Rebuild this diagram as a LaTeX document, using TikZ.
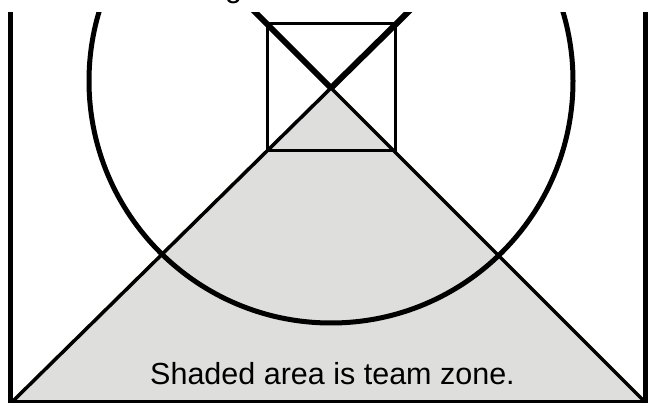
\documentclass[tikz,border=0pt]{standalone}
\usepackage{fontspec}
\setmainfont{Liberation Sans}
\definecolor{zonegray}{RGB}{222,222,220}
\usetikzlibrary{calc}

\begin{document}
\begin{tikzpicture}[x=1pt, y=-1pt, every node/.style={font=\fontsize{30.5}{36}\selectfont, inner sep=0pt},
  wall/.style={line width=5.5pt},
  ring/.style={line width=5pt},
  boxline/.style={line width=3pt},
  edge/.style={line width=3.5pt},
  arm/.style={line width=6pt}]
\useasboundingbox (0,0) rectangle (649,406);
% key points
\coordinate (apex) at (331,88);
\coordinate (bl) at (12,402);
\coordinate (br) at (645,402);
\coordinate (mid) at (331,81);
% cut-off title
\node[anchor=base] (title) at (233.5,-2) {g};
\begin{scope}
\clip (0,13) rectangle (649,406);
% team zone
\fill[zonegray] (apex) -- (bl) -- (br) -- cycle;
% walls
\draw[wall] (10.5,0) coordinate (lwtop) -- (10.5,403.5) coordinate (lwbot);
\draw[wall] (645.5,0) coordinate (rwtop) -- (645.5,403.5) coordinate (rwbot);
\draw[boxline] (lwbot) ++(0,-1.5) -- ($(rwbot)+(0,-1.5)$);
% circle
\draw[ring] (mid) circle (242);
% box
\draw[boxline] (267,24) rectangle (395,151);
% zone edges
\draw[edge] (bl) -- (apex) -- (br);
% upper arms
\draw[arm] (apex) -- ($(br)!1.3!(apex)$);
\draw[arm] (apex) -- ($(bl)!1.3!(apex)$);
\end{scope}
\node[anchor=base] (caption) at (332.5,385) {Shaded area is team zone.};
\end{tikzpicture}
\end{document}
